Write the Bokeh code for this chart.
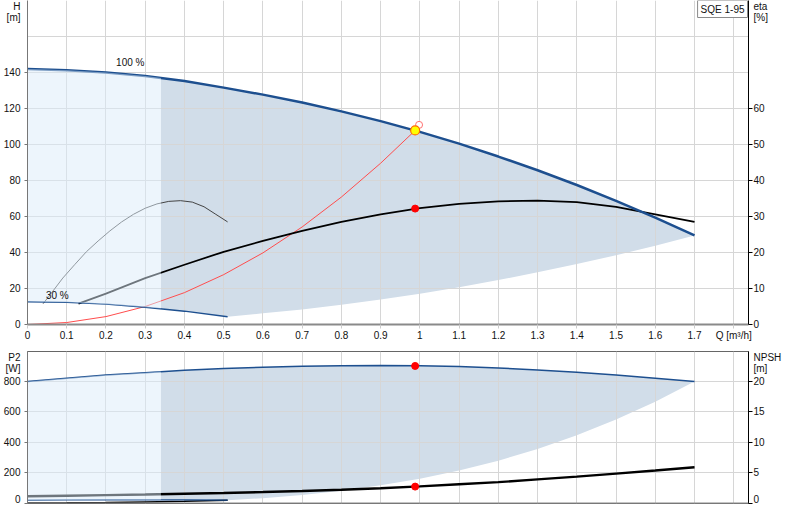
from bokeh.plotting import figure
from bokeh.models import Range1d, LinearAxis, FixedTicker, Label, Span, NumeralTickFormatter
from bokeh.layouts import column
from bokeh.embed import file_html
from bokeh.resources import INLINE

# ---------------- data ----------------
Q_TICKS = [0, 0.1, 0.2, 0.3, 0.4, 0.5, 0.6, 0.7, 0.8, 0.9, 1.0, 1.1, 1.2, 1.3, 1.4, 1.5, 1.6, 1.7, 1.8]
Q_AXIS_TITLE = "Q [m³/h]"
H_TICKS = [0, 20, 40, 60, 80, 100, 120, 140]
H_GRID = [20, 40, 60, 80, 100, 120, 140, 160]
ETA_TICKS = [0, 10, 20, 30, 40, 50, 60]
P_TICKS = [0, 200, 400, 600, 800]
P_GRID = [200, 400, 600, 800]
NPSH_TICKS = [0, 5, 10, 15, 20]

H_TITLE, H_UNIT = "H", "[m]"
ETA_TITLE, ETA_UNIT = "eta", "[%]"
P_TITLE, P_UNIT = "P2", "[W]"
NPSH_TITLE, NPSH_UNIT = "NPSH", "[m]"

# 100 % speed curves
Q100 = [0, 0.1, 0.2, 0.3, 0.4, 0.5, 0.6, 0.7, 0.8, 0.9, 1.0, 1.1, 1.2, 1.3, 1.4, 1.5, 1.6, 1.7]
H100 = [142.0, 141.3, 140.0, 138.0, 135.3, 131.6, 127.7, 123.3, 118.4, 113.0, 107.0, 100.5, 93.3, 85.7, 77.5, 68.7, 59.4, 49.5]
P2_100 = [800, 822, 842, 858, 873, 885, 894, 900, 904, 905, 903, 898, 889, 876, 860, 842, 822, 800]
NPSH100 = [1.2, 1.28, 1.37, 1.47, 1.6, 1.73, 1.88, 2.05, 2.25, 2.5, 2.8, 3.15, 3.5, 3.95, 4.4, 4.9, 5.4, 5.95]

Q_ETA100 = [0.13, 0.2, 0.3, 0.4, 0.5, 0.6, 0.7, 0.8, 0.9, 1.0, 1.1, 1.2, 1.3, 1.4, 1.5, 1.6, 1.7]
ETA100 = [5.8, 8.6, 12.9, 16.6, 20.2, 23.2, 26.0, 28.5, 30.6, 32.3, 33.5, 34.2, 34.4, 34.0, 32.7, 30.6, 28.5]

# 30 % speed curves
Q30 = [0, 0.1, 0.2, 0.3, 0.4, 0.51]
H30 = [12.6, 12.3, 11.3, 9.6, 7.4, 4.3]
P2_30 = [21.6, 23.3, 24.2, 24.4, 23.6, 21.6]
NPSH30 = [0.11, 0.12, 0.16, 0.25, 0.36, 0.54]

Q_ETA30 = [0.04, 0.06, 0.09, 0.12, 0.15, 0.18, 0.21, 0.24, 0.27, 0.30, 0.33, 0.36, 0.39, 0.42, 0.45, 0.48, 0.51]
ETA30 = [5.8, 8.6, 12.9, 16.6, 20.2, 23.2, 26.0, 28.5, 30.6, 32.3, 33.5, 34.2, 34.4, 34.0, 32.7, 30.6, 28.5]

# lower limit of the operating range
Q_MIN = [0.51, 0.6, 0.7, 0.8, 0.9, 1.0, 1.1, 1.2, 1.3, 1.4, 1.5, 1.6, 1.7]
H_MIN = [4.3, 6.2, 8.4, 11.0, 13.9, 17.1, 20.7, 24.7, 29.0, 33.6, 38.5, 43.8, 49.5]
P2_MIN = [22, 35, 56, 83, 119, 163, 217, 281, 358, 447, 550, 667, 800]

# split between light and dark zones
SPLIT_Q = 0.34
SPLIT_H_TOP, SPLIT_H_BOT = 137.0, 8.9
SPLIT_P_TOP, SPLIT_P_BOT = 866, 24.0

# system curve (red)
Q_SYS = [0, 0.1, 0.2, 0.3, 0.4, 0.5, 0.6, 0.7, 0.8, 0.9, 0.988]
H_SYS = [0, 1.1, 4.4, 10.0, 17.7, 27.7, 39.8, 54.2, 70.8, 89.6, 107.8]

# duty point
DUTY_Q = 0.988
DUTY_H = 107.8
DUTY_ETA = 32.2
DUTY_P2 = 902
DUTY_NPSH = 2.77
REQ_Q, REQ_H = 0.998, 110.9

PUMP_NAME = "SQE 1-95"

# ---------------- styling ----------------
X_MAX = 1.8376
H_MAX = 180.0
ETA_MAX = H_MAX / 2
P_MAX = 996.7
NPSH_MAX = P_MAX / 40
FONT = "Liberation Sans"
BLUE = "#1d4f8f"
DARK_FILL = "#d1dde9"
LIGHT_FILL = "#dcebf9"
GRID = "#d6d6d6"

# positions (axis units) of the axis titles shown at the top of each axis
H_TITLE_POS, H_UNIT_POS = 177.2, 170.3
ETA_TITLE_POS, ETA_UNIT_POS = 88.6, 85.3
P_TITLE_POS, P_UNIT_POS = 964.0, 887.0
NPSH_TITLE_POS, NPSH_UNIT_POS = 24.1, 22.18


def style_text(ax, standoff):
    ax.major_label_text_font = FONT
    ax.major_label_text_font_size = "10px"
    ax.major_label_text_color = "#111111"
    ax.major_label_standoff = standoff


def y_axis(ax, ticks, title_pos, unit_pos, title, unit, line_color, tick_out, standoff):
    # numbered ticks are drawn as minor ticks; the axis titles ride on unmarked major ticks
    ax.ticker = FixedTicker(ticks=ticks + [unit_pos, title_pos], minor_ticks=ticks)
    ax.formatter = NumeralTickFormatter(format="0")
    ax.major_label_overrides = {title_pos: title, unit_pos: unit}
    ax.axis_line_color = line_color
    ax.axis_line_width = 1
    ax.major_tick_line_color = None
    ax.major_tick_out = 0
    ax.major_tick_in = 0
    ax.minor_tick_line_color = line_color
    ax.minor_tick_out = tick_out
    ax.minor_tick_in = 0
    style_text(ax, standoff)


def zones(top_q, top_v, split_top, bot_q, bot_v, split_bot, min_q, min_v):
    dx = [SPLIT_Q] + [q for q in top_q if q > SPLIT_Q]
    dy = [split_top] + [v for q, v in zip(top_q, top_v) if q > SPLIT_Q]
    dx += min_q[::-1]
    dy += min_v[::-1]
    mid = [(q, v) for q, v in zip(bot_q, bot_v) if SPLIT_Q < q < min_q[0]]
    dx += [q for q, v in mid[::-1]] + [SPLIT_Q]
    dy += [v for q, v in mid[::-1]] + [split_bot]
    lx = [q for q in top_q if q < SPLIT_Q] + [SPLIT_Q, SPLIT_Q]
    ly = [v for q, v in zip(top_q, top_v) if q < SPLIT_Q] + [split_top, split_bot]
    low = [(q, v) for q, v in zip(bot_q, bot_v) if q < SPLIT_Q]
    lx += [q for q, v in low[::-1]]
    ly += [v for q, v in low[::-1]]
    return dx, dy, lx, ly


# ---------------- upper chart: H / eta ----------------
p1 = figure(width=784, height=351, x_range=Range1d(0, X_MAX), y_range=Range1d(0, H_MAX),
            output_backend="svg", toolbar_location=None, title=None,
            min_border_left=26, min_border_right=34, min_border_top=0, min_border_bottom=27,
            outline_line_color=None)
p1.extra_y_ranges = {"eta": Range1d(0, ETA_MAX)}

xa = p1.below[0]
xa.ticker = FixedTicker(ticks=Q_TICKS)
xa.formatter = NumeralTickFormatter(format="0.[0]")
xa.major_label_overrides = {1.8: Q_AXIS_TITLE}
xa.axis_line_color = "#8a8a8a"
xa.axis_line_width = 2
xa.major_tick_line_color = "#cccccc"
xa.major_tick_out = 4
xa.major_tick_in = 0
xa.minor_tick_line_color = None
style_text(xa, 1)

y_axis(p1.left[0], H_TICKS, H_TITLE_POS, H_UNIT_POS, H_TITLE, H_UNIT, "#777777", 3, 4)
ra = LinearAxis(y_range_name="eta")
y_axis(ra, ETA_TICKS, ETA_TITLE_POS, ETA_UNIT_POS, ETA_TITLE, ETA_UNIT, "black", 4, 1)
p1.add_layout(ra, "right")

p1.xgrid.ticker = FixedTicker(ticks=Q_TICKS)
p1.ygrid.ticker = FixedTicker(ticks=H_GRID)
p1.grid.grid_line_color = GRID

dx, dy, lx, ly = zones(Q100, H100, SPLIT_H_TOP, Q30, H30, SPLIT_H_BOT, Q_MIN, H_MIN)
p1.patch(dx, dy, fill_color=DARK_FILL, line_color=None, level="image")

p1.line(Q_SYS, H_SYS, line_color="#ff4d4d", line_width=1)
p1.line(Q_ETA30, ETA30, y_range_name="eta", line_color="#444444", line_width=1)
p1.line(Q_ETA100, ETA100, y_range_name="eta", line_color="black", line_width=1.8)
p1.line(Q30, H30, line_color=BLUE, line_width=1.4)
p1.line(Q100, H100, line_color=BLUE, line_width=2.5)

p1.patch(lx, ly, fill_color=LIGHT_FILL, fill_alpha=0.5, line_color=None)

p1.scatter([REQ_Q], [REQ_H], size=7, fill_color="white", line_color="#ff7070", line_width=1)
p1.scatter([DUTY_Q], [DUTY_H], size=9, fill_color="#ffff00", line_color="#ff6a00", line_width=1.2)
p1.scatter([DUTY_Q], [DUTY_ETA], y_range_name="eta", size=7, fill_color="red", line_color="red")

for txt, x, y in [("100 %", 0.262, 145.6), ("30 %", 0.076, 16.1)]:
    p1.add_layout(Label(x=x, y=y, text=txt, text_font=FONT, text_font_size="10px",
                        text_align="center", text_baseline="middle", text_color="#111111"))
p1.add_layout(Label(x=X_MAX, y=H_MAX, x_offset=-1, text=PUMP_NAME, text_font=FONT,
                    text_font_size="10px", text_align="right", text_baseline="top",
                    text_color="#111111", background_fill_color="white",
                    border_line_color="#8a8a8a", border_line_width=1, padding=3))

# ---------------- lower chart: P2 / NPSH ----------------
p2 = figure(width=784, height=153, x_range=Range1d(0, X_MAX), y_range=Range1d(0, P_MAX),
            output_backend="svg", toolbar_location=None, title=None,
            min_border_left=26, min_border_right=34, min_border_top=0, min_border_bottom=1,
            outline_line_color="#666666", outline_line_width=1)
p2.extra_y_ranges = {"npsh": Range1d(0, NPSH_MAX)}
p2.below[0].visible = False

y_axis(p2.left[0], P_TICKS, P_TITLE_POS, P_UNIT_POS, P_TITLE, P_UNIT, "#777777", 3, 4)
na = LinearAxis(y_range_name="npsh")
y_axis(na, NPSH_TICKS, NPSH_TITLE_POS, NPSH_UNIT_POS, NPSH_TITLE, NPSH_UNIT, "black", 4, 1)
p2.add_layout(na, "right")

p2.xgrid.ticker = FixedTicker(ticks=Q_TICKS)
p2.ygrid.ticker = FixedTicker(ticks=P_GRID)
p2.grid.grid_line_color = GRID

dx2, dy2, lx2, ly2 = zones(Q100, P2_100, SPLIT_P_TOP, Q30, P2_30, SPLIT_P_BOT, Q_MIN, P2_MIN)
p2.patch(dx2, dy2, fill_color=DARK_FILL, line_color=None, level="image")

p2.line(Q30, NPSH30, y_range_name="npsh", line_color="black", line_width=1.4)
p2.line(Q30, P2_30, line_color=BLUE, line_width=1.3)
p2.line(Q100, NPSH100, y_range_name="npsh", line_color="black", line_width=2.4)
p2.line(Q100, P2_100, line_color=BLUE, line_width=1.5)

p2.patch(lx2, ly2, fill_color=LIGHT_FILL, fill_alpha=0.5, line_color=None)

p2.scatter([DUTY_Q], [DUTY_P2], size=7, fill_color="red", line_color="red")
p2.scatter([DUTY_Q], [DUTY_NPSH], y_range_name="npsh", size=7, fill_color="red", line_color="red")
p2.add_layout(Span(location=0, dimension="width", line_color="#8a8a8a", line_width=2))

layout = column(p1, p2)
open("out.html", "w").write(file_html(layout, INLINE))
